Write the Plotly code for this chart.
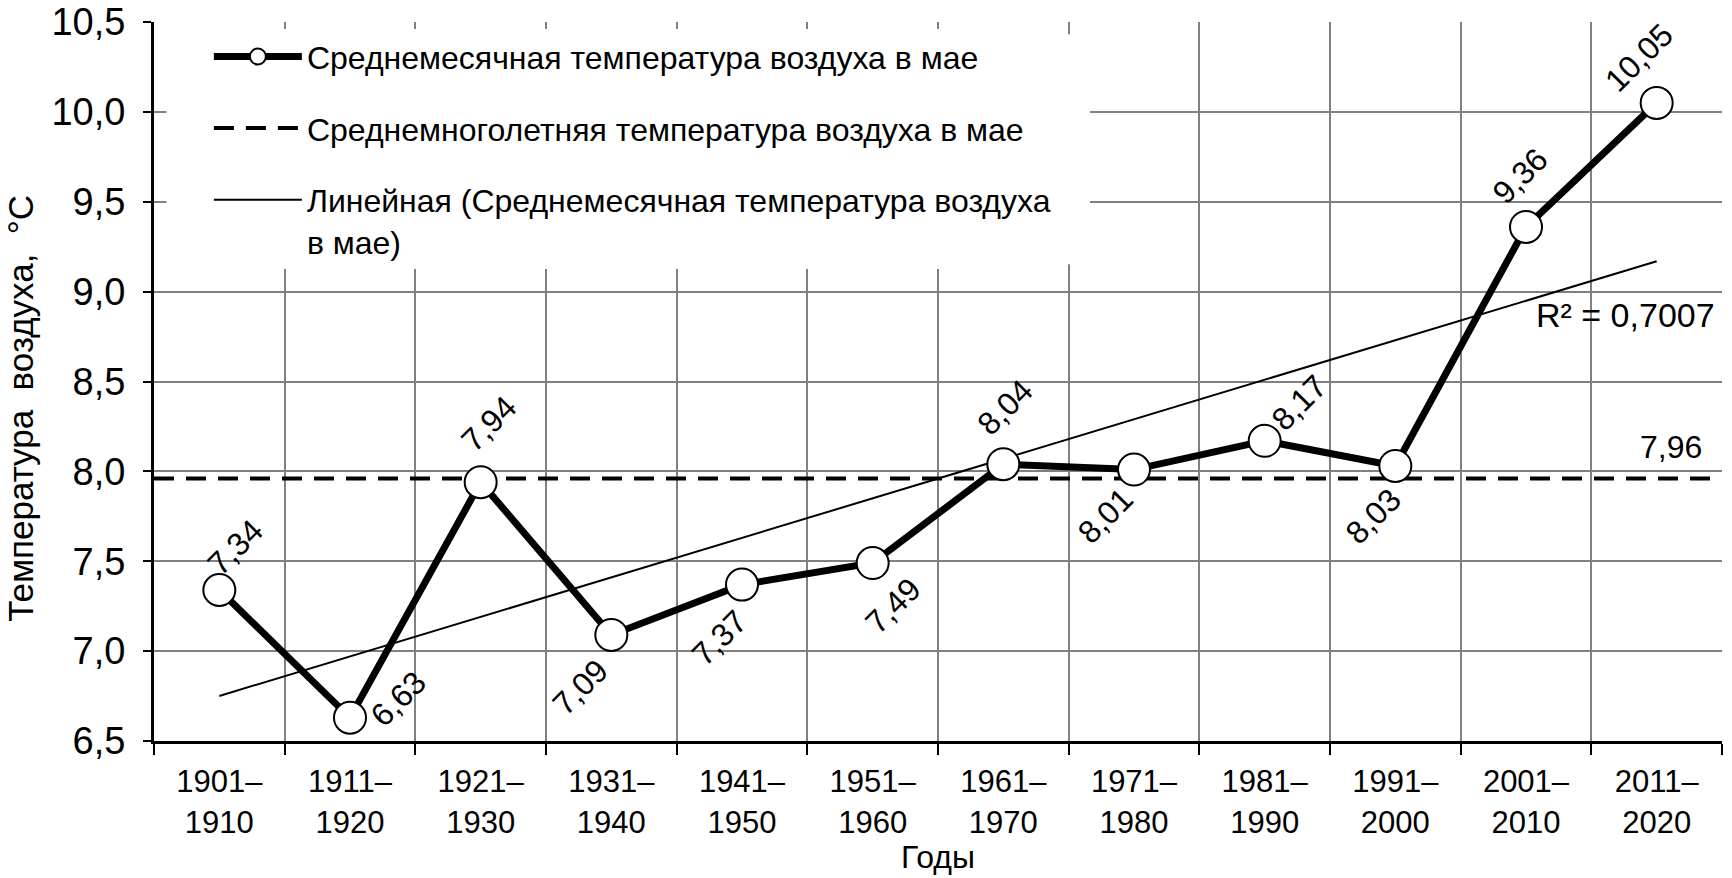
import numpy as np
import plotly.graph_objects as go

# ---- data ----
periods = ["1901–1910", "1911–1920", "1921–1930", "1931–1940", "1941–1950", "1951–1960",
           "1961–1970", "1971–1980", "1981–1990", "1991–2000", "2001–2010", "2011–2020"]
may_temp = [7.34, 6.63, 7.94, 7.09, 7.37, 7.49, 8.04, 8.01, 8.17, 8.03, 9.36, 10.05]
series_names = ["Среднемесячная температура воздуха в мае",
                "Среднемноголетняя температура воздуха в мае",
                "Линейная (Среднемесячная температура воздуха<br>в мае)"]
r2_text = "R² = 0,7007"
y_title = "Температура  воздуха,  °C"
x_title = "Годы"
y_ticks = [6.5, 7.0, 7.5, 8.0, 8.5, 9.0, 9.5, 10.0, 10.5]

# label offsets (px) for each data label: (dx right, dy up)
label_dx = [16, 48, 8, -31, -23, 20, 2, -29, 34, -22, -6, -18]
label_dy = [43, 19, 58, -52, -53, -43, 57, -46, 38, -50, 51, 45]

FONT = "Liberation Sans, Arial, sans-serif"

x_idx = np.arange(len(periods))
y_arr = np.array(may_temp)
mean_val = float(np.mean(y_arr))
coef = np.polyfit(x_idx, y_arr, 1)
trend = np.polyval(coef, x_idx)

ticktext = [p.replace("–", "–<br>") for p in periods]

fig = go.Figure()

fig.add_trace(go.Scatter(
    x=x_idx, y=trend, mode="lines", name=series_names[2],
    line=dict(color="black", width=2), legendgroup="c", legendrank=3,
    hoverinfo="skip"))

fig.add_trace(go.Scatter(
    x=[-0.5, len(periods) - 0.5], y=[mean_val, mean_val], mode="lines",
    name=series_names[1], line=dict(color="black", width=4, dash="20px,12px"),
    legendgroup="b", legendrank=2, hoverinfo="skip"))

fig.add_trace(go.Scatter(
    x=x_idx, y=y_arr, mode="lines+markers", name=series_names[0],
    line=dict(color="black", width=7),
    marker=dict(size=32, color="white", line=dict(color="black", width=2)),
    legendgroup="a", legendrank=1))

annotations = []
for i, v in enumerate(may_temp):
    annotations.append(dict(
        x=i, y=v, xref="x", yref="y", text=f"{v:.2f}".replace(".", ","),
        showarrow=False, textangle=-45, xshift=label_dx[i], yshift=label_dy[i],
        font=dict(family=FONT, size=32, color="black")))

annotations.append(dict(
    x=1, y=9.0, xref="paper", yref="y", text=r2_text, showarrow=False,
    xanchor="right", yanchor="top", xshift=-5, yshift=-2,
    font=dict(family=FONT, size=34, color="black")))
annotations.append(dict(
    x=1, y=mean_val, xref="paper", yref="y", text=f"{mean_val:.2f}".replace(".", ","),
    showarrow=False, xanchor="right", yanchor="bottom", xshift=-18, yshift=12,
    font=dict(family=FONT, size=32, color="black")))
# y-axis title
annotations.append(dict(
    x=0, y=0.462, xref="paper", yref="paper", text=y_title, showarrow=False,
    textangle=-90, xanchor="center", yanchor="middle", xshift=-133,
    font=dict(family=FONT, size=35, color="black")))

fig.update_layout(
    width=1732, height=878,
    margin=dict(l=154, r=10, t=22, b=137),
    paper_bgcolor="white", plot_bgcolor="white",
    separators=", ",
    font=dict(family=FONT, size=30, color="black"),
    showlegend=True,
    legend=dict(
        x=0.035, y=0.99, xanchor="left", yanchor="top",
        bgcolor="white", borderwidth=0,
        font=dict(family=FONT, size=32, color="black"),
        traceorder="grouped", tracegroupgap=27, itemwidth=88, valign="top",
        itemclick=False, itemdoubleclick=False),
    shapes=[dict(type="rect", xref="paper", yref="paper",
                 x0=0.008, x1=0.597, y0=0.663, y1=0.983,
                 fillcolor="white", line=dict(width=0), layer="above")],
    annotations=annotations,
    xaxis=dict(
        range=[-0.5, len(periods) - 0.5], automargin=False,
        tickmode="array", tickvals=list(x_idx), ticktext=ticktext,
        ticks="", showgrid=False, zeroline=False,
        showline=True, linecolor="black", linewidth=3,
        tickfont=dict(family=FONT, size=31, color="black"),
        ticklabelstandoff=11,
        minor=dict(tick0=-0.5, dtick=1, ticks="outside", ticklen=11, tickwidth=2,
                   tickcolor="black", showgrid=True, gridcolor="#808080", gridwidth=2),
        title=dict(text=x_title, font=dict(family=FONT, size=32), standoff=6),
        fixedrange=True),
    yaxis=dict(
        range=[6.5, 10.5], tickmode="array", tickvals=y_ticks, automargin=False,
        tickformat=".1f", ticks="outside", ticklen=8, tickwidth=2, tickcolor="black",
        showgrid=True, gridcolor="#808080", gridwidth=2, zeroline=False,
        showline=True, linecolor="black", linewidth=3,
        tickfont=dict(family=FONT, size=38, color="black"),
        ticklabelstandoff=10,
        fixedrange=True),
)

fig.write_html("out.html", config={"displayModeBar": False},
               post_script="document.body.style.margin='0';")
